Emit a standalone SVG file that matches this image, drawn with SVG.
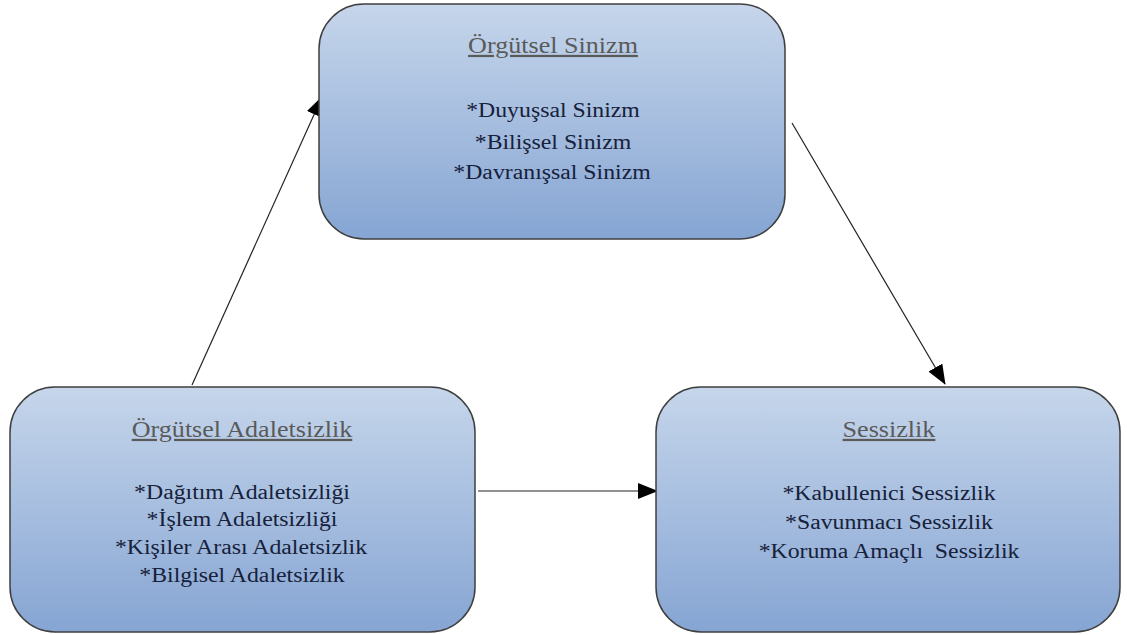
<svg xmlns="http://www.w3.org/2000/svg" width="1127" height="635" viewBox="0 0 1127 635">
<defs>
<linearGradient id="g" x1="0" y1="0" x2="0" y2="1">
<stop offset="0" stop-color="#c6d6eb"/>
<stop offset="1" stop-color="#86a5d3"/>
</linearGradient>
<marker id="ah" markerWidth="20" markerHeight="16" refX="19" refY="8" orient="auto" markerUnits="userSpaceOnUse" viewBox="0 0 20 16">
<path d="M0,0 L20,8 L0,16 z" fill="#000"/>
</marker>
<style>
.box{fill:url(#g);stroke:#3f3f3f;stroke-width:1.5}
.t{font-family:"Liberation Serif",serif;font-size:22.5px;fill:#5a5a5a;text-anchor:middle;text-decoration:underline}
.i{font-family:"Liberation Serif",serif;font-size:20.5px;fill:#16213a;text-anchor:middle}
.c{stroke:#222;stroke-width:1.2;fill:none;marker-end:url(#ah)}
</style>
</defs>
<rect width="1127" height="635" fill="#fff"/>
<g id="connectors">
<line class="c" x1="192" y1="385" x2="322" y2="97"/>
<line class="c" x1="792" y1="123" x2="945" y2="384"/>
<line class="c" x1="478" y1="491" x2="657" y2="491"/>
</g>
<g id="node-sinizm">
<rect class="box" x="319" y="4" width="466" height="235" rx="45" ry="45"/>
<text class="t" transform="translate(553,53) scale(1.16,1)">Örgütsel Sinizm</text>
<text class="i" transform="translate(553,117) scale(1.16,1)">*Duyuşsal Sinizm</text>
<text class="i" transform="translate(553,149) scale(1.16,1)">*Bilişsel Sinizm</text>
<text class="i" transform="translate(552,179) scale(1.16,1)">*Davranışsal Sinizm</text>
</g>
<g id="node-adaletsizlik">
<rect class="box" x="10" y="387" width="465" height="245" rx="45" ry="45"/>
<text class="t" transform="translate(242,437) scale(1.16,1)">Örgütsel Adaletsizlik</text>
<text class="i" transform="translate(242,499) scale(1.16,1)">*Dağıtım Adaletsizliği</text>
<text class="i" transform="translate(242,526) scale(1.16,1)">*İşlem Adaletsizliği</text>
<text class="i" transform="translate(241,554) scale(1.16,1)">*Kişiler Arası Adaletsizlik</text>
<text class="i" transform="translate(242,582) scale(1.16,1)">*Bilgisel Adaletsizlik</text>
</g>
<g id="node-sessizlik">
<rect class="box" x="656" y="387" width="464" height="245" rx="45" ry="45"/>
<text class="t" transform="translate(889,437) scale(1.16,1)">Sessizlik</text>
<text class="i" transform="translate(889,500) scale(1.16,1)">*Kabullenici Sessizlik</text>
<text class="i" transform="translate(889,529) scale(1.16,1)">*Savunmacı Sessizlik</text>
<text class="i" transform="translate(889,558) scale(1.16,1)" xml:space="preserve">*Koruma Amaçlı  Sessizlik</text>
</g>
</svg>
